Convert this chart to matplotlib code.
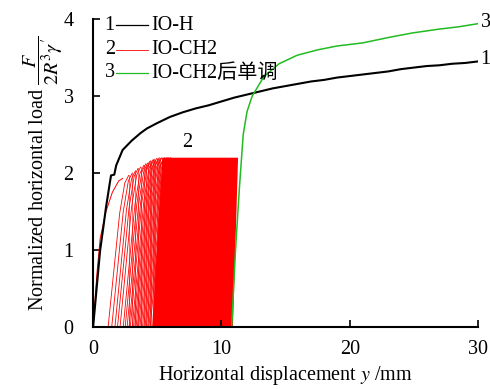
import numpy as np
import matplotlib.pyplot as plt

plt.rcParams['font.family'] = ['Liberation Serif', 'Noto Sans CJK SC']
plt.rcParams['mathtext.fontset'] = 'stix'

# curve 1: IO-H
h_x = [0, 0.3, 0.55, 0.8, 1.0, 1.3, 1.4, 1.65, 1.8, 2.3, 3.0, 3.7, 4.2, 5.0, 6.0, 7.0,
       8.0, 9.0, 10.0, 11.0, 12.0, 13.0, 14.0, 15.0, 16.0, 17.0, 18.0, 19.0, 20.0,
       21.0, 22.0, 23.0, 24.0, 25.0, 26.0, 27.0, 28.0, 29.0, 30.0]
h_y = [0, 0.55, 1.0, 1.3, 1.55, 1.87, 1.97, 1.98, 2.1, 2.3, 2.42, 2.52, 2.58, 2.65, 2.73, 2.79,
       2.84, 2.88, 2.93, 2.98, 3.02, 3.06, 3.1, 3.13, 3.16, 3.19, 3.21, 3.24, 3.26,
       3.28, 3.3, 3.32, 3.35, 3.37, 3.39, 3.4, 3.42, 3.43, 3.45]

# curve 3: IO-CH2 after monotonic loading
m_x = [10.8, 11.1, 11.4, 11.7, 12.0, 12.4, 13.3, 14.5, 15.9, 17.5, 19.0, 21.0, 23.0, 24.9, 27.0, 28.5, 30.0]
m_y = [0, 1.0, 1.8, 2.5, 2.8, 3.0, 3.25, 3.42, 3.53, 3.6, 3.65, 3.69, 3.76, 3.82, 3.87, 3.9, 3.94]

# curve 2: IO-CH2 cyclic, first loading branch
c_first_x = [0, 0.3, 0.55, 1.0, 1.5, 2.0, 2.3]
c_first_y = [0, 0.7, 1.15, 1.5, 1.75, 1.9, 1.93]
# later cycles: start position and peak load
c_start = [1.17, 1.45, 1.7, 1.9, 2.1, 2.35, 2.5, 2.65, 2.8, 2.9, 3.05, 3.15, 3.25, 3.35,
           3.45, 3.55, 3.65, 3.75, 3.85, 3.95, 4.05, 4.15, 4.25, 4.35, 4.45]
c_peak = [1.97, 2.0, 2.03, 2.06, 2.08, 2.1, 2.12, 2.13, 2.15, 2.16, 2.17, 2.18, 2.17, 2.19,
          2.18, 2.2, 2.19, 2.2, 2.18, 2.2, 2.19, 2.2, 2.2, 2.19, 2.2]
cyc_dx = [0, 0.9, 1.3, 1.6]
cyc_frac = [0, 0.75, 0.95, 1.0]
# dense part of the cycles (drawn as a filled band)
dense_x = [4.6, 5.4, 11.3, 10.9]
dense_y = [0, 2.2, 2.2, 0]

fs = 14.5
fig = plt.figure(figsize=(4.9, 3.89), dpi=100)
ax = fig.add_axes([0.19, 0.159, 0.7855, 0.792])

ax.fill(dense_x, dense_y, color='red', lw=0)
ax.plot(c_first_x, c_first_y, color='red', lw=0.7)
for s, p in zip(c_start, c_peak):
    xs = [s + d for d in cyc_dx]
    ys = [p * f for f in cyc_frac]
    ax.plot(xs, ys, color='red', lw=0.6)
    ax.plot([xs[-1], xs[-1]], [ys[-1], 0], color='red', lw=0.4)

ax.plot(h_x, h_y, color='black', lw=1.5)
ax.plot(m_x, m_y, color='#22bb22', lw=1.1)

ax.set_xlim(0, 30)
ax.set_ylim(0, 4)
ax.set_xticks([0, 10, 20, 30])
ax.set_yticks([0, 1, 2, 3, 4])
for sp in ['top', 'right']:
    ax.spines[sp].set_visible(False)
for sp in ['left', 'bottom']:
    ax.spines[sp].set_linewidth(1.5)
ax.tick_params(direction='in', length=5, width=1.2, labelsize=fs)
ax.tick_params(axis='y', pad=14)
ax.tick_params(axis='x', pad=9)

ax.set_xlabel('Horizontal displacement $y$ /mm', fontsize=fs, labelpad=4)
ax.set_ylabel("Normalized horizontal load $\\dfrac{F}{2R^3\\gamma'}$", fontsize=fs, labelpad=-1)

# curve labels
ax.text(7.3, 2.28, '2', fontsize=fs, ha='center', va='bottom')
ax.text(30.2, 3.47, '1', fontsize=fs, ha='left', va='center', clip_on=False)
ax.text(30.2, 3.96, '3', fontsize=fs, ha='left', va='center', clip_on=False)

# legend drawn by hand
leg = [('1', 'IO-H', 'black'), ('2', 'IO-CH2', 'red'), ('3', 'IO-CH2后单调', '#22bb22')]
leg_y = [3.92, 3.6, 3.3]
for (num, name, col), yy in zip(leg, leg_y):
    ax.text(0.9, yy, num, fontsize=fs, ha='left', va='center')
    ax.plot([1.8, 4.3], [yy, yy], color=col, lw=0.9 if col != 'red' else 0.6)
    ax.text(4.5, yy, name, fontsize=fs, ha='left', va='center')

fig.savefig('out.png', dpi=100)
